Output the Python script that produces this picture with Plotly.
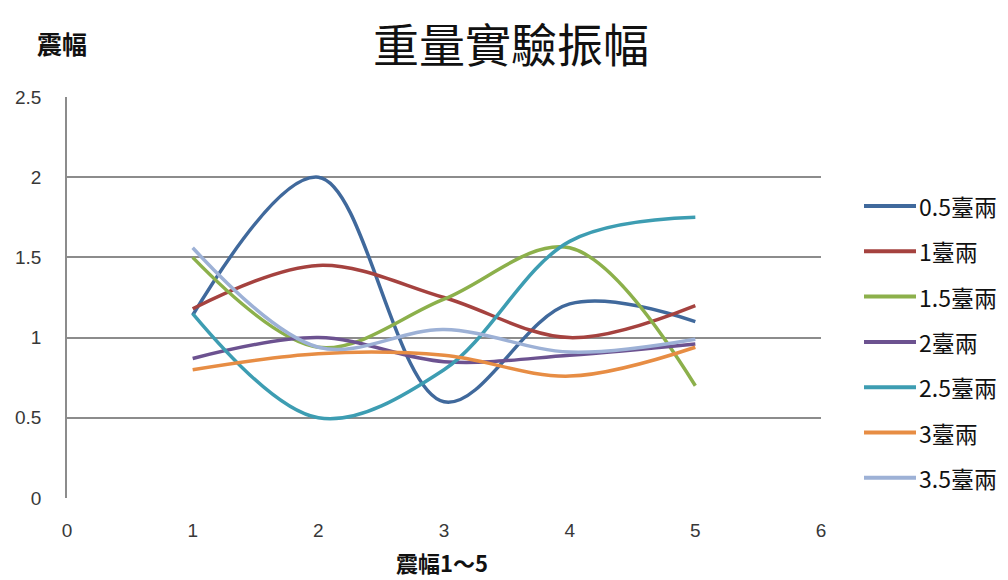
import plotly.graph_objects as go

x_vals = [1, 2, 3, 4, 5]
series_names = ["0.5臺兩", "1臺兩", "1.5臺兩", "2臺兩", "2.5臺兩", "3臺兩", "3.5臺兩"]
s05 = [1.14, 2.0, 0.6, 1.21, 1.1]
s10 = [1.18, 1.45, 1.25, 1.0, 1.2]
s15 = [1.5, 0.94, 1.24, 1.56, 0.7]
s20 = [0.87, 1.0, 0.85, 0.89, 0.96]
s25 = [1.15, 0.5, 0.8, 1.6, 1.75]
s30 = [0.8, 0.9, 0.89, 0.76, 0.94]
s35 = [1.56, 0.94, 1.05, 0.91, 0.99]
series_values = [s05, s10, s15, s20, s25, s30, s35]
colors = ["#40699C", "#A5423F", "#8CB04B", "#6C5290", "#3D9DB2", "#E78D44", "#9DB1D6"]

x_ticks = [0, 1, 2, 3, 4, 5, 6]
y_ticks = [0, 0.5, 1, 1.5, 2, 2.5]
y_tick_text = ["0", "0.5", "1", "1.5", "2", "2.5"]

title_text = "重量實驗振幅"
y_title = "震幅"
x_title = "震幅1～5"

CJK = "Noto Sans CJK TC"
W, H = 1008, 580
ML, MR, MT, MB = 67, 187, 97, 82
PW, PH = W - ML - MR, H - MT - MB


def px(xp):
    return (xp - ML) / PW


def py(yp):
    return (H - MB - yp) / PH


fig = go.Figure()
for name, vals, c in zip(series_names, series_values, colors):
    fig.add_trace(go.Scatter(
        x=x_vals, y=vals, name=name, mode="lines",
        line=dict(color=c, width=3.5, shape="spline", smoothing=1.0),
        showlegend=False,
    ))

annotations = [
    dict(text=title_text, x=px(511), y=py(42), xref="paper", yref="paper",
         xanchor="center", yanchor="middle",
         showarrow=False, font=dict(family=CJK, size=46, color="#111111")),
    dict(text="<b>" + y_title + "</b>", x=px(62), y=py(43), xref="paper", yref="paper",
         xanchor="center", yanchor="middle",
         showarrow=False, font=dict(family=CJK, size=25, color="#111111")),
    dict(text="<b>" + x_title + "</b>", x=px(442), y=py(562), xref="paper", yref="paper",
         xanchor="center", yanchor="middle",
         showarrow=False, font=dict(family=CJK, size=22, color="#111111")),
]

# custom legend (built from series names and colours)
shapes = []
leg_y0, leg_dy = 206, 45.3
for i, (name, c) in enumerate(zip(series_names, colors)):
    yy = leg_y0 + i * leg_dy
    shapes.append(dict(type="line", xref="paper", yref="paper",
                       x0=px(864), x1=px(916), y0=py(yy), y1=py(yy),
                       line=dict(color=c, width=4)))
    annotations.append(dict(text=name, x=px(917), y=py(yy), xref="paper", yref="paper",
                            xanchor="left", yanchor="middle", showarrow=False,
                            font=dict(family=CJK, size=23, color="#111111")))

fig.update_layout(
    width=W, height=H,
    margin=dict(l=ML, r=MR, t=MT, b=MB),
    paper_bgcolor="white", plot_bgcolor="white",
    font=dict(family=CJK, color="#222222"),
    showlegend=False,
    xaxis=dict(
        range=[0, 6], tickvals=x_ticks, ticktext=[str(t) for t in x_ticks],
        showgrid=False, zeroline=False, showline=False,
        tickfont=dict(family="Liberation Sans", size=19, color="#383838"),
        ticks="", ticklabelstandoff=19,
    ),
    yaxis=dict(
        range=[0, 2.5], tickvals=y_ticks, ticktext=y_tick_text,
        showgrid=True, gridcolor="#8C8C8C", gridwidth=1.5,
        zeroline=False, showline=True, linecolor="#8C8C8C", linewidth=1.5,
        tickfont=dict(family="Liberation Sans", size=19, color="#383838"),
        ticks="", ticklabelstandoff=20,
    ),
    annotations=annotations,
    shapes=shapes,
)

fig.write_html("out.html")
